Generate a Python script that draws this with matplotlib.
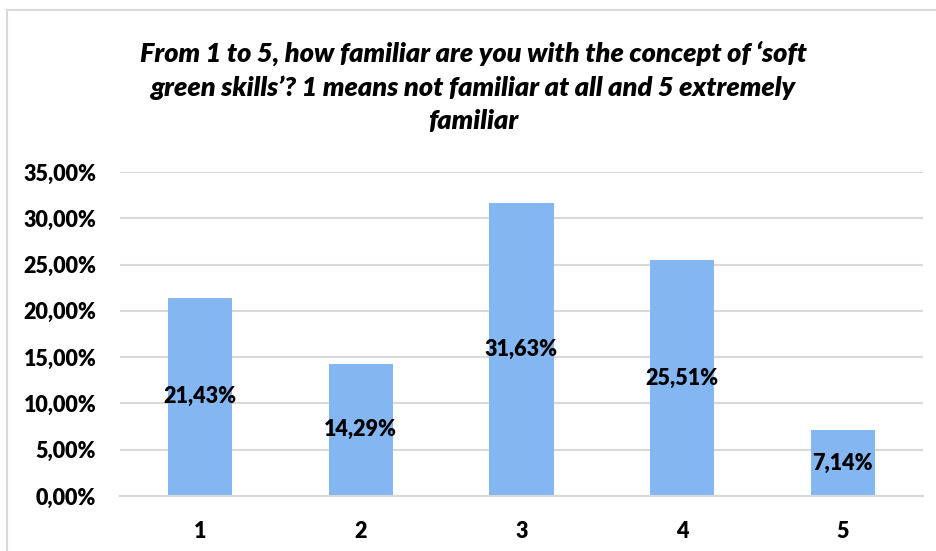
import numpy as np
import matplotlib.pyplot as plt
from matplotlib.lines import Line2D

# data
categories = ['1', '2', '3', '4', '5']
shares = [21.43, 14.29, 31.63, 25.51, 7.14]
yticks = [0, 5, 10, 15, 20, 25, 30, 35]

title = ("From 1 to 5, how familiar are you with the concept of \u2018soft\n"
         "green skills\u2019? 1 means not familiar at all and 5 extremely\n"
         "familiar")

plt.rcParams['font.family'] = ['Lato', 'DejaVu Sans']
W = 'heavy'

fig = plt.figure(figsize=(9.37, 5.51), dpi=100)
ax = fig.add_axes([0.128, 0.0998, 0.857, 0.588])

x = np.arange(len(categories))
bars = ax.bar(x, shares, width=0.4, color='#84B6F2', zorder=2)

# labels in the middle of each bar
for xi, v in zip(x, shares):
    ax.text(xi, v / 2, f'{v:.2f}%'.replace('.', ','), ha='center', va='center',
            fontsize=15.5, fontweight=W, color='black', zorder=3)

ax.set_xlim(-0.5, len(categories) - 0.5)
ax.set_ylim(0, 35)
ax.set_yticks(yticks)
ax.set_yticklabels([f'{t:.2f}%'.replace('.', ',') for t in yticks])
ax.set_xticks(x)
ax.set_xticklabels(categories)
ax.tick_params(axis='y', length=0, pad=17, labelsize=15.5)
ax.tick_params(axis='x', length=0, pad=18, labelsize=15.5)
for lab in ax.get_xticklabels() + ax.get_yticklabels():
    lab.set_fontweight(W)

ax.grid(axis='y', color='#d9d9d9', linewidth=1.5, zorder=0)
for s in ['top', 'right', 'left']:
    ax.spines[s].set_visible(False)
ax.spines['bottom'].set_color('#d9d9d9')
ax.spines['bottom'].set_linewidth(1.5)

fig.text(0.505, 0.842, title, ha='center', va='center', fontsize=19.5,
         fontweight=W, fontstyle='italic', linespacing=1.45)

# chart border (left and top edges visible)
fig.add_artist(Line2D([7 / 937, 7 / 937], [0, 1 - 10 / 551], color='#d9d9d9', linewidth=1.5))
fig.add_artist(Line2D([7 / 937, 1], [1 - 10 / 551, 1 - 10 / 551], color='#d9d9d9', linewidth=1.5))

fig.savefig('out.png', dpi=100)
